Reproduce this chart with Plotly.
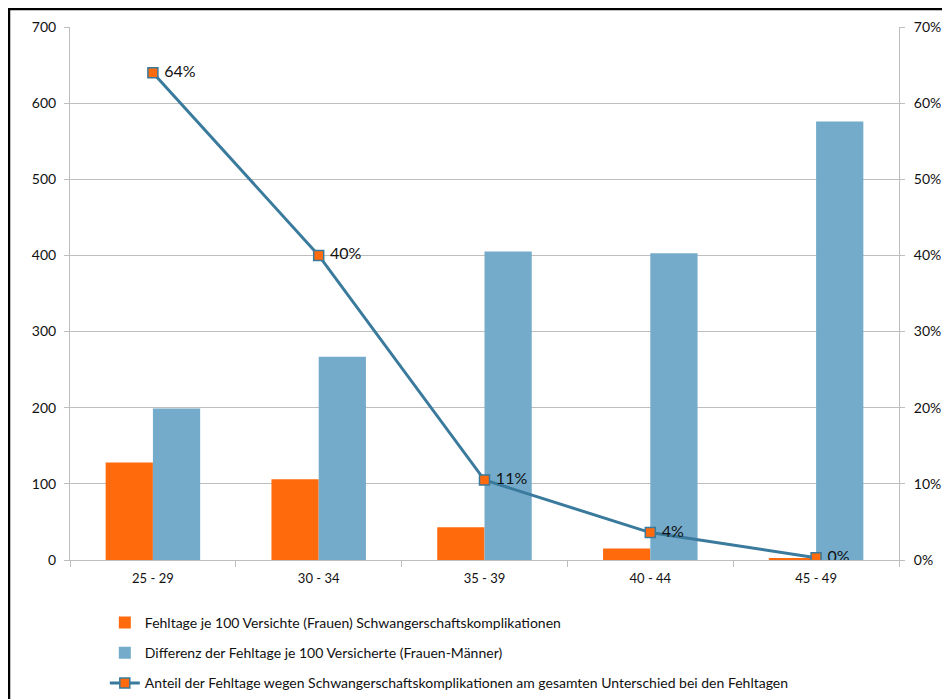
import plotly.graph_objects as go

# Altersgruppen
age_groups = ["25 - 29", "30 - 34", "35 - 39", "40 - 44", "45 - 49"]
# Fehltage je 100 Versicherte (Frauen) wegen Schwangerschaftskomplikationen
fehltage_schwanger = [128, 106, 43, 15, 2]
# Differenz der Fehltage je 100 Versicherte (Frauen - Männer)
differenz_fehltage = [199, 267, 405, 403, 576]
# Anteil (in %)
anteil = [0.64, 0.40, 0.105, 0.036, 0.003]
anteil_labels = [" 64%", " 40%", " 11%", " 4%", " 0%"]

FONT = "Lato, 'Open Sans', sans-serif"
GRID = "#BEBEBE"

fig = go.Figure()

fig.add_trace(go.Bar(
    x=age_groups, y=fehltage_schwanger,
    name="Fehltage je 100 Versichte (Frauen) Schwangerschaftskomplikationen",
    marker=dict(color="#FF6A0D", line=dict(width=0)),
    legendgroup="a",
))
fig.add_trace(go.Bar(
    x=age_groups, y=differenz_fehltage,
    name="Differenz der Fehltage je 100 Versicherte (Frauen-Männer)",
    marker=dict(color="#74ABCA", line=dict(width=0)),
    legendgroup="b",
))
fig.add_trace(go.Scatter(
    x=age_groups, y=anteil, yaxis="y2",
    mode="lines+markers+text",
    text=anteil_labels, textposition="middle right",
    textfont=dict(size=16, color="#111"),
    name="Anteil der Fehltage wegen Schwangerschaftskomplikationen am gesamten Unterschied bei den Fehltagen",
    line=dict(color="#3A7A9C", width=3),
    marker=dict(symbol="square", size=10, color="#FF6A0D",
                line=dict(color="#3A7A9C", width=1.5)),
    legendgroup="c",
))

# page body has an 8px default margin, so the figure is 8px smaller
fig.update_layout(
    width=942, height=691,
    margin=dict(l=62, r=51, t=19, b=139, autoexpand=False),
    plot_bgcolor="white", paper_bgcolor="white",
    font=dict(family=FONT, size=14, color="#111"),
    barmode="group", bargap=0.43, bargroupgap=0,
    showlegend=True,
    legend=dict(
        x=0.042, y=-0.088, xanchor="left", yanchor="top",
        orientation="v", tracegroupgap=9,
        traceorder="grouped",
        font=dict(size=14), itemwidth=30,
    ),
    xaxis=dict(
        showline=True, linecolor=GRID, linewidth=1,
        ticks="outside", tickson="boundaries", ticklen=6, tickcolor=GRID,
        showgrid=False, tickfont=dict(size=13), ticklabelstandoff=6,
    ),
    yaxis=dict(
        range=[0, 700], dtick=100, showgrid=True, gridcolor=GRID,
        showline=True, linecolor=GRID, ticks="outside", ticklen=5,
        tickcolor=GRID, zeroline=False, tickfont=dict(size=14),
        ticklabelstandoff=5,
    ),
    yaxis2=dict(
        overlaying="y", side="right", range=[0, 0.7], dtick=0.1,
        tickformat=".0%", showgrid=False, showline=True, linecolor=GRID,
        ticks="outside", ticklen=5, tickcolor=GRID, zeroline=False,
        tickfont=dict(size=14), ticklabelstandoff=6,
    ),
    shapes=[dict(
        type="rect", xref="paper", yref="paper",
        x0=-61 / 829, x1=877 / 829, y0=-160 / 533, y1=551 / 533,
        line=dict(color="black", width=2.5), fillcolor="rgba(0,0,0,0)",
    )],
)

fig.write_html("out.html")
